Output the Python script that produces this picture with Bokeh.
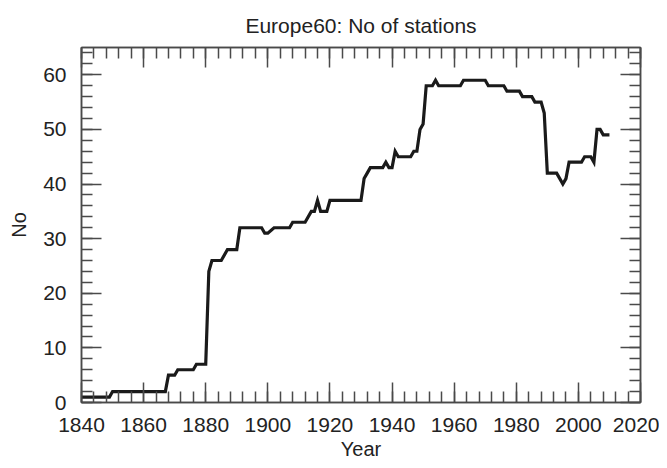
from bokeh.plotting import figure
from bokeh.models import (LinearAxis, SingleIntervalTicker, Range1d,
                          CustomJSTickFormatter, ColumnDataSource, Title)
from bokeh.embed import file_html
from bokeh.resources import INLINE

# Data: vertices of the station-count line (year, number of stations)
years = [1840, 1849, 1850, 1867, 1868, 1870, 1871, 1876, 1877, 1880,
         1881, 1882, 1885, 1887, 1890, 1891, 1898, 1899, 1900, 1902,
         1907, 1908, 1912, 1914, 1915, 1916, 1917, 1919, 1920, 1930,
         1931, 1932, 1933, 1937, 1938, 1939, 1940, 1941, 1942, 1946,
         1947, 1948, 1949, 1950, 1951, 1953, 1954, 1955, 1962, 1963,
         1970, 1971, 1976, 1977, 1981, 1982, 1985, 1986, 1988, 1989,
         1990, 1993, 1995, 1996, 1997, 2001, 2002, 2004, 2005, 2006,
         2007, 2008, 2010]
stations = [1, 1, 2, 2, 5, 5, 6, 6, 7, 7,
            24, 26, 26, 28, 28, 32, 32, 31, 31, 32,
            32, 33, 33, 35, 35, 37, 35, 35, 37, 37,
            41, 42, 43, 43, 44, 43, 43, 46, 45, 45,
            46, 46, 50, 51, 58, 58, 59, 58, 58, 59,
            59, 58, 58, 57, 57, 56, 56, 55, 55, 53,
            42, 42, 40, 41, 44, 44, 45, 45, 44, 50,
            50, 49, 49]

title_text = "Europe60: No of stations"
x_label = "Year"
y_label = "No"
x_min, x_max = 1840, 2020
y_min, y_max = 0, 65

FONT = "Liberation Sans"
TXT = "#222222"
FRAME = "#4a4a4a"

p = figure(width=659, height=462, output_backend="svg", toolbar_location=None,
           x_range=Range1d(x_min, x_max), y_range=Range1d(y_min, y_max),
           x_axis_type=None, y_axis_type=None, title=None,
           min_border_left=81, min_border_right=19,
           min_border_top=47, min_border_bottom=60)

p.grid.visible = False
p.outline_line_color = FRAME
p.outline_line_width = 1.5
p.background_fill_color = "white"
p.border_fill_color = "white"

def make_axis(kind, labels):
    tick = SingleIntervalTicker(interval=20 if kind == "x" else 10, num_minor_ticks=5)
    ax = LinearAxis(ticker=tick)
    ax.major_tick_in = 20
    ax.major_tick_out = 0
    ax.minor_tick_in = 11
    ax.minor_tick_out = 0
    ax.axis_line_color = FRAME
    ax.axis_line_width = 1.5
    ax.major_tick_line_color = FRAME
    ax.minor_tick_line_color = FRAME
    ax.major_tick_line_width = 1.5
    ax.minor_tick_line_width = 1.5
    if labels:
        ax.major_label_text_font = FONT
        ax.major_label_text_font_size = "21px"
        ax.major_label_text_color = TXT
        ax.axis_label_text_font = FONT
        ax.axis_label_text_font_size = "20px"
        ax.axis_label_text_font_style = "normal"
        ax.axis_label_text_color = TXT
        ax.major_label_standoff = 15
        ax.axis_label_standoff = 10 if kind == "y" else 3
    else:
        ax.formatter = CustomJSTickFormatter(code="return '';")
        ax.major_label_text_font_size = "1px"
        ax.major_label_standoff = 0
    return ax

xb = make_axis("x", True)
xb.axis_label = x_label
yl = make_axis("y", True)
yl.axis_label = y_label
xt = make_axis("x", False)
yr = make_axis("y", False)
p.add_layout(xb, "below")
p.add_layout(yl, "left")
p.add_layout(xt, "above")
p.add_layout(yr, "right")

p.add_layout(Title(text=title_text, align="center", text_font=FONT,
                   text_font_size="21px", text_font_style="normal",
                   text_color=TXT, standoff=21), "above")

src = ColumnDataSource(data=dict(year=years, n=stations))
p.line("year", "n", source=src, line_color="#1a1a1a", line_width=3.2,
       line_join="miter")

open("out.html", "w").write(file_html(p, INLINE))
